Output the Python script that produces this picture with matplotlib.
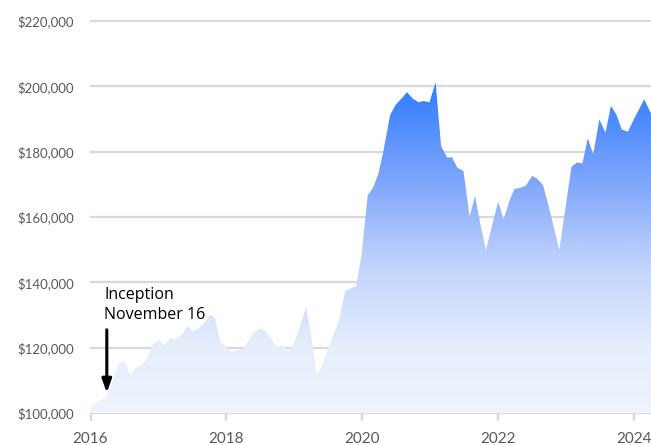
import numpy as np
import matplotlib
matplotlib.use("Agg")
import matplotlib.pyplot as plt
from matplotlib.colors import LinearSegmentedColormap
from matplotlib.ticker import FuncFormatter

dates = [2016.00, 2016.24, 2016.42, 2016.50, 2016.58, 2016.69, 2016.75, 2016.83, 2016.92, 2017.00,
         2017.09, 2017.17, 2017.24, 2017.32, 2017.43, 2017.50, 2017.59, 2017.67, 2017.76, 2017.83,
         2017.91, 2018.08, 2018.25, 2018.40, 2018.50, 2018.58, 2018.74, 2018.83, 2018.93, 2019.01,
         2019.09, 2019.17, 2019.24, 2019.33, 2019.41, 2019.50, 2019.66, 2019.75, 2019.91, 2019.99,
         2020.08, 2020.16, 2020.24, 2020.31, 2020.41, 2020.49, 2020.57, 2020.66, 2020.74, 2020.83,
         2020.90, 2020.99, 2021.08, 2021.16, 2021.25, 2021.32, 2021.40, 2021.49, 2021.58, 2021.66,
         2021.74, 2021.82, 2022.00, 2022.08, 2022.17, 2022.24, 2022.33, 2022.41, 2022.50, 2022.57,
         2022.66, 2022.74, 2022.90, 2023.08, 2023.16, 2023.24, 2023.32, 2023.40, 2023.49, 2023.58,
         2023.66, 2023.74, 2023.82, 2023.91, 2024.00, 2024.15, 2024.25]
values = [102100, 105000, 115400, 115900, 111900, 114200, 114600, 116700, 121100, 122300,
          120800, 122900, 122600, 123400, 126600, 124900, 125900, 127500, 130000, 129300,
          121800, 118800, 119800, 124400, 125900, 124900, 120300, 120800, 118800, 122300,
          126900, 132400, 124900, 111600, 114400, 119800, 128500, 137400, 138900, 148400,
          166600, 169000, 173400, 180000, 191200, 194300, 196100, 198200, 196300, 195100,
          195500, 195100, 201200, 181700, 178200, 178300, 175100, 174100, 160100, 166500,
          157600, 149900, 164700, 159300, 165200, 168600, 169000, 169600, 172600, 171800,
          169800, 163700, 149900, 175400, 176700, 176400, 184100, 179200, 189900, 185800,
          194000, 191400, 186800, 186100, 190000, 196000, 191700]

yticks = [100000, 120000, 140000, 160000, 180000, 200000, 220000]
xticks = [2016, 2018, 2020, 2022, 2024]
annot_text = "Inception\nNovember 16"
annot_x = 2016.24

fig = plt.figure(figsize=(6.51, 4.45), dpi=100)
ax = fig.add_axes([90.5 / 651, 1 - 413 / 445, 1 - 90.5 / 651, (413 - 21) / 445])

ax.set_xlim(2016, 2024.25)
ax.set_ylim(100000, 220000)

grid_c = "#d9d9d9"
for y in yticks:
    ax.axhline(y, color=grid_c, lw=1.6, zorder=0, clip_on=False)

cmap = LinearSegmentedColormap.from_list(
    "g", [(0.0, "#eef3fd"), (0.2, "#e6eefc"), (0.45, "#c0d3fb"),
          (0.7, "#7fa6fb"), (1.0, "#2f7bff")])
poly = ax.fill_between(dates, values, 100000, color="none", lw=0, zorder=1)
grad = np.linspace(0, 1, 256).reshape(-1, 1)
im = ax.imshow(grad, cmap=cmap, origin="lower", aspect="auto",
               extent=[2016, 2024.25, 100000, 201200], zorder=1)
path = poly.get_paths()[0]
im.set_clip_path(path, transform=ax.transData)

for s in ax.spines.values():
    s.set_visible(False)

ax.set_yticks(yticks)
ax.yaxis.set_major_formatter(FuncFormatter(lambda v, p: f"${v:,.0f}"))
ax.set_xticks(xticks)
ax.tick_params(axis="y", length=0, pad=12, labelsize=9.5, labelcolor="#595959")
ax.tick_params(axis="x", length=6, width=1.6, color=grid_c, pad=8,
               labelsize=11, labelcolor="#595959")
for lab in ax.get_xticklabels() + ax.get_yticklabels():
    lab.set_fontfamily(["Lato", "DejaVu Sans"])

ax.annotate("", xy=(annot_x, 105300), xytext=(annot_x, 126300),
            arrowprops=dict(arrowstyle="-|>,head_length=0.8,head_width=0.28",
                            color="black", lw=2.2), zorder=5)
ax.text(2016.2, 127600, annot_text, fontsize=11.5, color="black",
        family=["Open Sans", "DejaVu Sans"], va="bottom", ha="left",
        linespacing=1.35, zorder=5)

fig.savefig("out.png", dpi=100)
